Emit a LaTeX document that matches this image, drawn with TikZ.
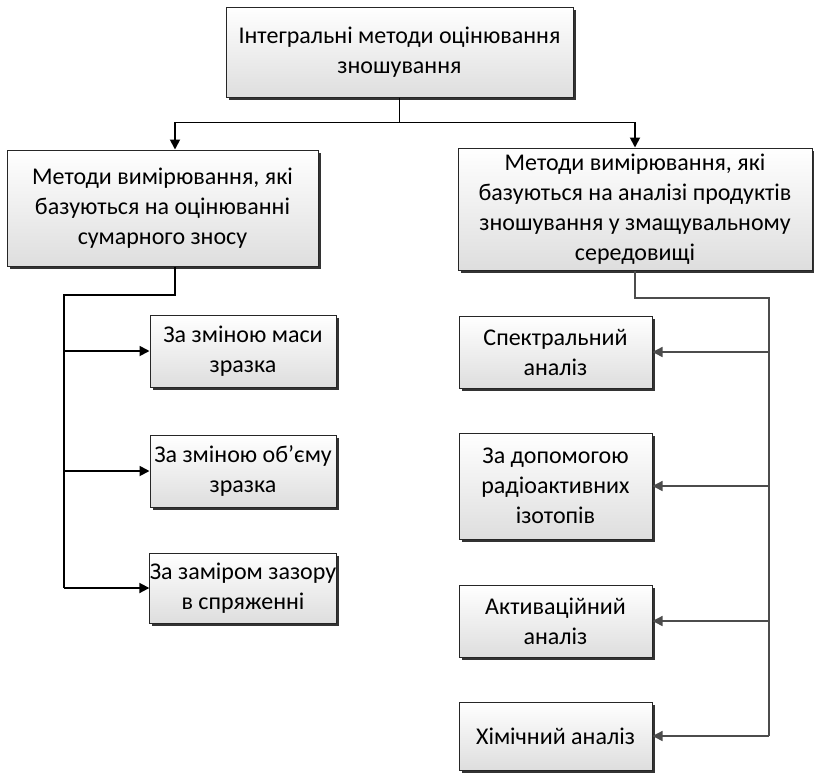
\documentclass[tikz,border=0pt]{standalone}
\usepackage{fontspec}
\setmainfont{Carlito}
\usetikzlibrary{arrows.meta,shadows}

\begin{document}
\begin{tikzpicture}[x=0.5pt, y=-0.5pt,
  box/.style={rectangle, draw=black!85, line width=0.5pt, top color=white, bottom color=black!13,
    align=center, inner sep=0pt, font=\fontsize{12}{15}\selectfont,
    drop shadow={shadow xshift=1.3pt, shadow yshift=-1.3pt, fill=black!80, opacity=1}},
  wire/.style={line width=0.9pt},
  link/.style={wire, -{Triangle[length=5pt, width=5pt]}},
  gwire/.style={line width=0.7pt, draw=black!70}]

\useasboundingbox (0,0) rectangle (814,773);

\node[box, minimum width=173.5pt, minimum height=45pt] (top) at (399.5,52) {Інтегральні методи оцінювання\\зношування};

\node[box, minimum width=155.5pt, minimum height=58pt] (L) at (162.5,208) {Методи вимірювання, які\\базуються на оцінюванні\\сумарного зносу};
\node[box, minimum width=177pt, minimum height=61pt] (R) at (635,209) {Методи вимірювання, які\\базуються на аналізі продуктів\\зношування у змащувальному\\середовищі};

\node[box, minimum width=93pt, minimum height=36pt] (m1) at (243,351) {За зміною маси\\зразка};
\node[box, minimum width=93pt, minimum height=36pt] (m2) at (243,471) {За зміною об’єму\\зразка};
\node[box, minimum width=93pt, minimum height=35pt] (m3) at (243,588) {За заміром зазору\\в спряженні};

\node[box, minimum width=96.5pt, minimum height=36pt] (a1) at (555.5,352) {Спектральний\\аналіз};
\node[box, minimum width=96.5pt, minimum height=53pt] (a2) at (555.5,486) {За допомогою\\радіоактивних\\ізотопів};
\node[box, minimum width=96.5pt, minimum height=36pt] (a3) at (555.5,621) {Активаційний\\аналіз};
\node[box, minimum width=96.5pt, minimum height=34pt] (a4) at (555.5,736) {Хімічний аналіз};

\coordinate (lx) at (175,0);
\coordinate (lbus) at (64,295);
\coordinate (rbus) at (769,298);

\draw[link] (top.south) -- ++(0,25) -| (L.north -| lx);
\draw[link] (top.south) -- ++(0,25) -| (R.north);

\draw[wire] (L.south -| lx) |- (lbus) -- (lbus |- m3.west);
\foreach \n in {m1,m2,m3}
  \draw[link] (lbus |- \n.west) -- (\n.west);

\draw[gwire] (R.south) |- (rbus) -- (rbus |- a4.east);
\foreach \n in {a1,a2,a3,a4}
  \draw[gwire, -{Triangle[length=5pt, width=5pt]}] (rbus |- \n.east) -- (\n.east);

\end{tikzpicture}
\end{document}
